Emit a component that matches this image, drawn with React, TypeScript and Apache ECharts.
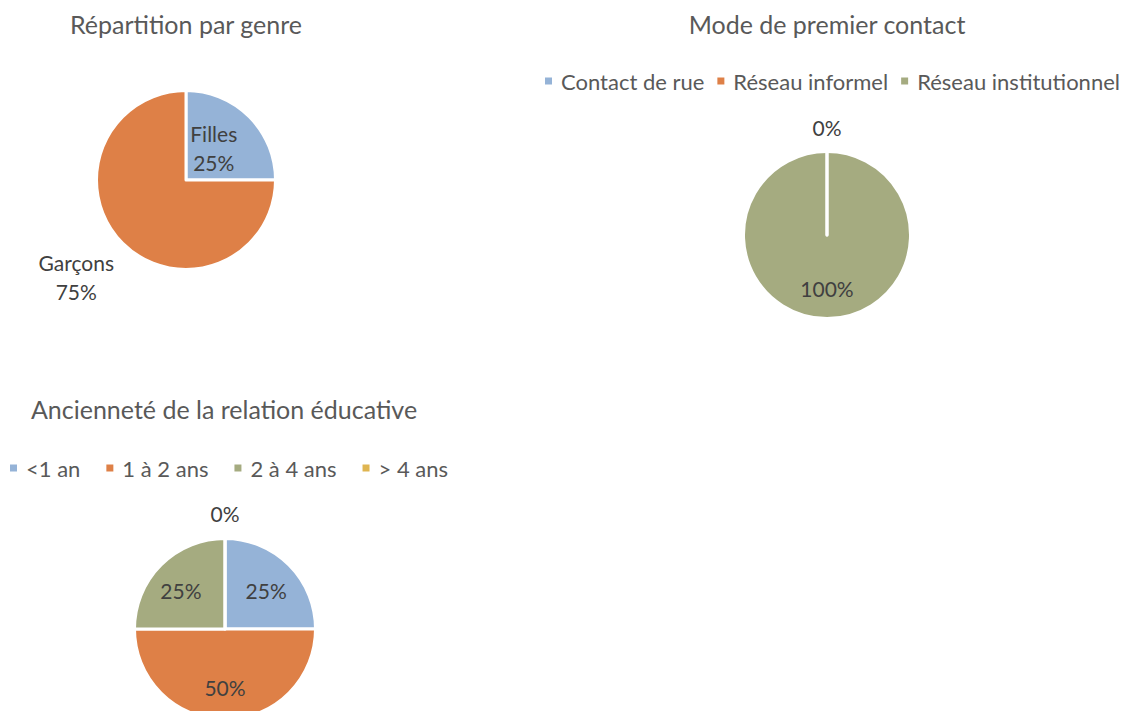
import React, { useEffect, useRef } from "react";
import * as echarts from "echarts";

const genreNames = ["Filles", "Garçons"];
const genreValues = [25, 75];

const contactNames = ["Contact de rue", "Réseau informel", "Réseau institutionnel"];
const contactValues = [0, 0, 100];

const ancienneteNames = ["<1 an", "1 à 2 ans", "2 à 4 ans", "> 4 ans"];
const ancienneteValues = [25, 50, 25, 0];

const titles = ["Répartition par genre", "Mode de premier contact", "Ancienneté de la relation éducative"];

const BLUE = "#95B3D7";
const ORANGE = "#DE8047";
const GREEN = "#A5AB80";
const YELLOW = "#DFB551";
const FONT = "Lato";
const TITLE_COLOR = "#595959";
const LABEL_COLOR = "#404040";

const genreColors = [BLUE, ORANGE];
const genreOffsets = [[-6, 2], [-76, 63]];
const contactColors = [BLUE, ORANGE, GREEN];
const contactOffsets = [[0, -63], [0, -63], [0, 9]];
const ancienneteColors = [BLUE, ORANGE, GREEN, YELLOW];
const ancienneteOffsets = [[7, -4], [0, 10], [-10, -4], [0, -67]];

function buildData(names: string[], values: number[], colors: string[], offsets: number[][]) {
  return names.map((n, i) => ({
    name: n,
    value: values[i],
    itemStyle: { color: colors[i] },
    label: { offset: offsets[i] },
  }));
}

export default function App() {
  const ref = useRef<HTMLDivElement>(null);
  useEffect(() => {
    document.body.style.margin = "0";
    const chart = echarts.init(ref.current!, undefined, { renderer: "svg" });
    const labelBase = {
      show: true,
      position: "inside",
      color: LABEL_COLOR,
      fontFamily: FONT,
      fontSize: 21,
      lineHeight: 29,
    };
    const titleStyle = { color: TITLE_COLOR, fontFamily: FONT, fontSize: 25, fontWeight: "normal" as const };
    const legendText = { color: TITLE_COLOR, fontFamily: FONT, fontSize: 22, padding: [0, 0, 0, 3] };
    chart.setOption({
      animation: false,
      backgroundColor: "#ffffff",
      title: [
        { text: titles[0], left: 181, top: 6, textAlign: "center", textStyle: titleStyle },
        { text: titles[1], left: 822, top: 6, textAlign: "center", textStyle: titleStyle },
        { text: titles[2], left: 219, top: 391, textAlign: "center", textStyle: titleStyle },
      ],
      legend: [
        {
          data: contactNames,
          left: 538,
          top: 65,
          icon: "rect",
          itemWidth: 9,
          itemHeight: 9,
          itemGap: 11,
          textStyle: legendText,
          selectedMode: false,
        },
        {
          data: ancienneteNames,
          left: 3,
          top: 452,
          icon: "rect",
          itemWidth: 9,
          itemHeight: 9,
          itemGap: 24,
          textStyle: legendText,
          selectedMode: false,
        },
      ],
      series: [
        {
          type: "pie",
          center: [186, 180],
          radius: 89.5,
          startAngle: 90,
          itemStyle: { borderColor: "#ffffff", borderWidth: 3 },
          label: { ...labelBase, formatter: "{b}\n{d}%" },
          labelLine: { show: false },
          emphasis: { disabled: true },
          data: buildData(genreNames, genreValues, genreColors, genreOffsets),
        },
        {
          type: "pie",
          center: [827, 235],
          radius: 83.5,
          startAngle: 90,
          clockwise: false,
          itemStyle: { borderColor: "#ffffff", borderWidth: 3 },
          label: { ...labelBase, formatter: "{d}%" },
          labelLine: { show: false },
          emphasis: { disabled: true },
          data: buildData(contactNames, contactValues, contactColors, contactOffsets).reverse(),
        },
        {
          type: "pie",
          center: [225, 629],
          radius: 90.5,
          startAngle: 90,
          itemStyle: { borderColor: "#ffffff", borderWidth: 3 },
          label: { ...labelBase, formatter: "{d}%" },
          labelLine: { show: false },
          emphasis: { disabled: true },
          data: buildData(ancienneteNames, ancienneteValues, ancienneteColors, ancienneteOffsets),
        },
      ],
    });
    return () => chart.dispose();
  }, []);
  return (
    <div
      ref={ref}
      style={{ position: "fixed", left: 0, top: 0, width: 1126, height: 711 }}
    />
  );
}
